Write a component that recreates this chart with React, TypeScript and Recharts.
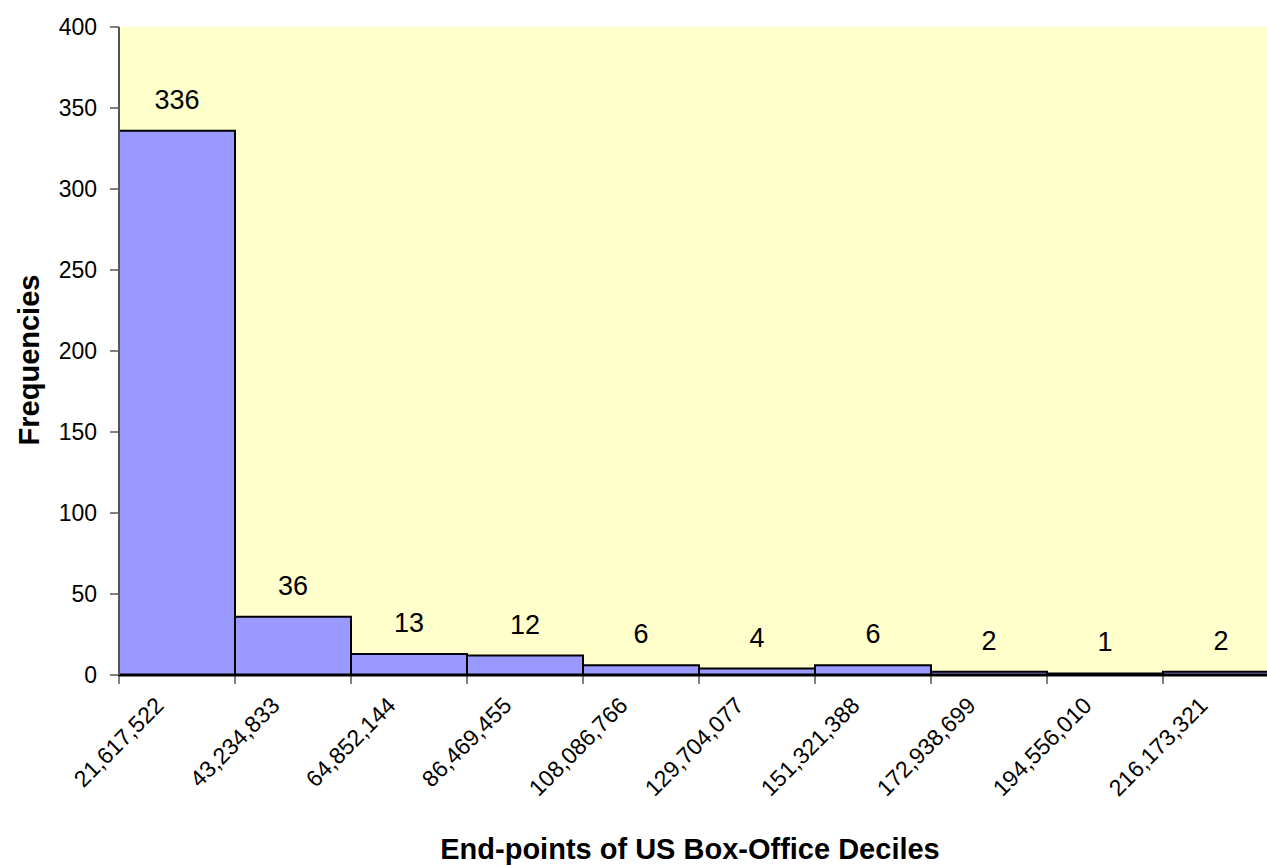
import React from "react";
import { Bar, BarChart, CartesianGrid, LabelList, XAxis, YAxis } from "recharts";

const categories = [
  "21,617,522",
  "43,234,833",
  "64,852,144",
  "86,469,455",
  "108,086,766",
  "129,704,077",
  "151,321,388",
  "172,938,699",
  "194,556,010",
  "216,173,321",
];
const frequencies = [336, 36, 13, 12, 6, 4, 6, 2, 1, 2];
const yTicks = [0, 50, 100, 150, 200, 250, 300, 350, 400];

const FONT = "'Liberation Sans', Arial, sans-serif";
const CHART_W = 1290;
const CHART_H = 866;
const Y_AXIS_W = 119;
const RIGHT = 11;
const BAND = (CHART_W - Y_AXIS_W - RIGHT) / categories.length;

const data = categories.map((c, i) => ({ label: c, value: frequencies[i] }));

function XTick(props: any) {
  const { x, y, payload } = props;
  const bx = x - BAND / 2;
  const tx = x - 12;
  const ty = y + 32;
  return (
    <g>
      <line x1={bx} y1={y} x2={bx} y2={y + 9} stroke="#000" strokeWidth={1} />
      <text
        x={tx}
        y={ty}
        textAnchor="end"
        transform={`rotate(-45 ${tx} ${ty})`}
        fontSize={23}
        fontFamily={FONT}
        fill="#000"
      >
        {payload.value}
      </text>
    </g>
  );
}

function XTitle(props: any) {
  const { viewBox } = props;
  return (
    <text
      x={viewBox.x + viewBox.width / 2 - 9}
      y={viewBox.y + 184}
      textAnchor="middle"
      fontSize={29}
      fontWeight="bold"
      fontFamily={FONT}
      fill="#000"
    >
      End-points of US Box-Office Deciles
    </text>
  );
}

function YTitle(props: any) {
  const { viewBox } = props;
  const cx = 39;
  const cy = viewBox.y + viewBox.height / 2 + 9;
  return (
    <text
      x={cx}
      y={cy}
      textAnchor="middle"
      transform={`rotate(-90 ${cx} ${cy})`}
      fontSize={29}
      fontWeight="bold"
      fontFamily={FONT}
      fill="#000"
    >
      Frequencies
    </text>
  );
}

export default function App() {
  return (
    <div
      style={{
        position: "fixed",
        left: 0,
        top: 0,
        width: 1267,
        height: 866,
        overflow: "hidden",
        background: "#fff",
      }}
    >
      <BarChart
        width={CHART_W}
        height={CHART_H}
        data={data}
        margin={{ top: 27, right: RIGHT, left: 0, bottom: 0 }}
        barCategoryGap={0}
      >
        <CartesianGrid fill="#FFFFCC" horizontal={false} vertical={false} stroke="none" />
        <XAxis
          dataKey="label"
          height={191}
          interval={0}
          tickSize={0}
          tickMargin={0}
          tickLine={false}
          axisLine={{ stroke: "#000", strokeWidth: 3 }}
          tick={<XTick />}
          label={<XTitle />}
        />
        <YAxis
          width={Y_AXIS_W}
          domain={[0, 400]}
          ticks={yTicks}
          interval={0}
          tickSize={9}
          tickMargin={13}
          axisLine={{ stroke: "#555", strokeWidth: 2 }}
          tickLine={{ stroke: "#555", strokeWidth: 1.5 }}
          tick={{ fontSize: 23, fontFamily: FONT, fill: "#000" }}
          label={<YTitle />}
        />
        <Bar
          dataKey="value"
          fill="#9999FF"
          stroke="#000"
          strokeWidth={2}
          isAnimationActive={false}
        >
          <LabelList
            dataKey="value"
            position="top"
            offset={22}
            fontSize={27}
            fontFamily={FONT}
            fill="#000"
          />
        </Bar>
      </BarChart>
    </div>
  );
}
